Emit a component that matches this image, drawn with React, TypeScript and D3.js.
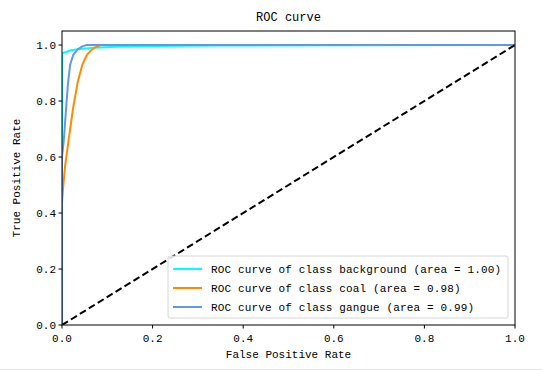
import { useEffect } from 'react';
import * as d3 from 'd3';

type Pt = [number, number];

// ROC points (fpr, tpr)
const backgroundRoc: Pt[] = [
  [0, 0], [0, 0.97], [0.01, 0.976], [0.02, 0.981], [0.04, 0.986], [0.07, 0.99],
  [0.12, 0.994], [0.2, 0.996], [0.35, 0.998], [0.6, 0.999], [1, 1],
];
const coalRoc: Pt[] = [
  [0, 0], [0, 0.07], [0, 0.44], [0.003, 0.5], [0.007, 0.57], [0.012, 0.63],
  [0.018, 0.7], [0.025, 0.78], [0.035, 0.87], [0.045, 0.93], [0.055, 0.965],
  [0.065, 0.982], [0.075, 0.993], [0.085, 1.0], [1, 1],
];
const gangueRoc: Pt[] = [
  [0, 0], [0, 0.06], [0, 0.6], [0.004, 0.66], [0.008, 0.75], [0.013, 0.86],
  [0.018, 0.93], [0.025, 0.965], [0.035, 0.985], [0.045, 0.995], [0.055, 1.0], [1, 1],
];

const seriesNames = ['background', 'coal', 'gangue'];
const seriesAreas = ['1.00', '0.98', '0.99'];
const seriesColors = ['#00ffff', '#ff8c00', '#6495ed'];
const seriesData = [backgroundRoc, coalRoc, gangueRoc];

const xTicks = [0, 0.2, 0.4, 0.6, 0.8, 1.0];
const yTicks = [0, 0.2, 0.4, 0.6, 0.8, 1.0];

const W = 542;
const H = 371;
const margin = { top: 31, right: 27, bottom: 46, left: 62 };
const FONT = '"Liberation Mono", "DejaVu Sans Mono", monospace';

export default function App() {
  useEffect(() => {
    document.body.style.margin = '0';
  }, []);

  const w = W - margin.left - margin.right;
  const h = H - margin.top - margin.bottom;
  const x = d3.scaleLinear().domain([0, 1]).range([0, w]);
  const y = d3.scaleLinear().domain([0, 1.05]).range([h, 0]);
  const line = d3.line<Pt>().x((d) => x(d[0])).y((d) => y(d[1]));

  const legendX = 168 - margin.left;
  const legendY = 256 - margin.top;
  const rowH = 19;

  return (
    <svg width={W} height={H} style={{ display: 'block', background: '#fff' }} fontFamily={FONT}>
      <text x={margin.left + w / 2} y={21} textAnchor="middle" fontSize={12} fill="#000">
        ROC curve
      </text>
      <g transform={`translate(${margin.left},${margin.top})`}>
        <defs>
          <clipPath id="plot">
            <rect x={0} y={0} width={w} height={h} />
          </clipPath>
        </defs>
        <g clipPath="url(#plot)">
          {seriesData.map((d, i) => (
            <path key={i} d={line(d) ?? ''} fill="none" stroke={seriesColors[i]} strokeWidth={2} />
          ))}
          <path
            d={line([[0, 0], [1, 1]]) ?? ''}
            fill="none"
            stroke="#000"
            strokeWidth={2}
            strokeDasharray="7,3.5"
          />
        </g>
        <rect x={0} y={0} width={w} height={h} fill="none" stroke="#000" strokeWidth={1} />

        {xTicks.map((t) => (
          <g key={'x' + t} transform={`translate(${x(t)},${h})`}>
            <line y2={3.5} stroke="#000" />
            <text y={17} textAnchor="middle" fontSize={11} fill="#000">
              {t.toFixed(1)}
            </text>
          </g>
        ))}
        {yTicks.map((t) => (
          <g key={'y' + t} transform={`translate(0,${y(t)})`}>
            <line x2={-3.5} stroke="#000" />
            <text x={-6} dy="0.35em" textAnchor="end" fontSize={11} fill="#000">
              {t.toFixed(1)}
            </text>
          </g>
        ))}
        <text x={w / 2} y={h + 33} textAnchor="middle" fontSize={11} fill="#000">
          False Positive Rate
        </text>
        <text
          transform={`translate(${-42},${h / 2}) rotate(-90)`}
          textAnchor="middle"
          fontSize={11}
          fill="#000"
        >
          True Positive Rate
        </text>

        {/* legend */}
        <g transform={`translate(${legendX},${legendY})`}>
          <rect x={0} y={0} width={340} height={62} rx={2} fill="#fff" fillOpacity={0.85} stroke="#d6d6d6" />
          {seriesNames.map((name, i) => (
            <g key={name} transform={`translate(0,${13 + i * rowH})`}>
              <line x1={5} x2={34} stroke={seriesColors[i]} strokeWidth={2} />
              <text x={43} dy="0.35em" fontSize={11} letterSpacing={0.15} fill="#000">
                {`ROC curve of class ${name} (area = ${seriesAreas[i]})`}
              </text>
            </g>
          ))}
        </g>
      </g>
      <line x1={0} x2={W} y1={369.5} y2={369.5} stroke="#e6e6e6" />
    </svg>
  );
}
